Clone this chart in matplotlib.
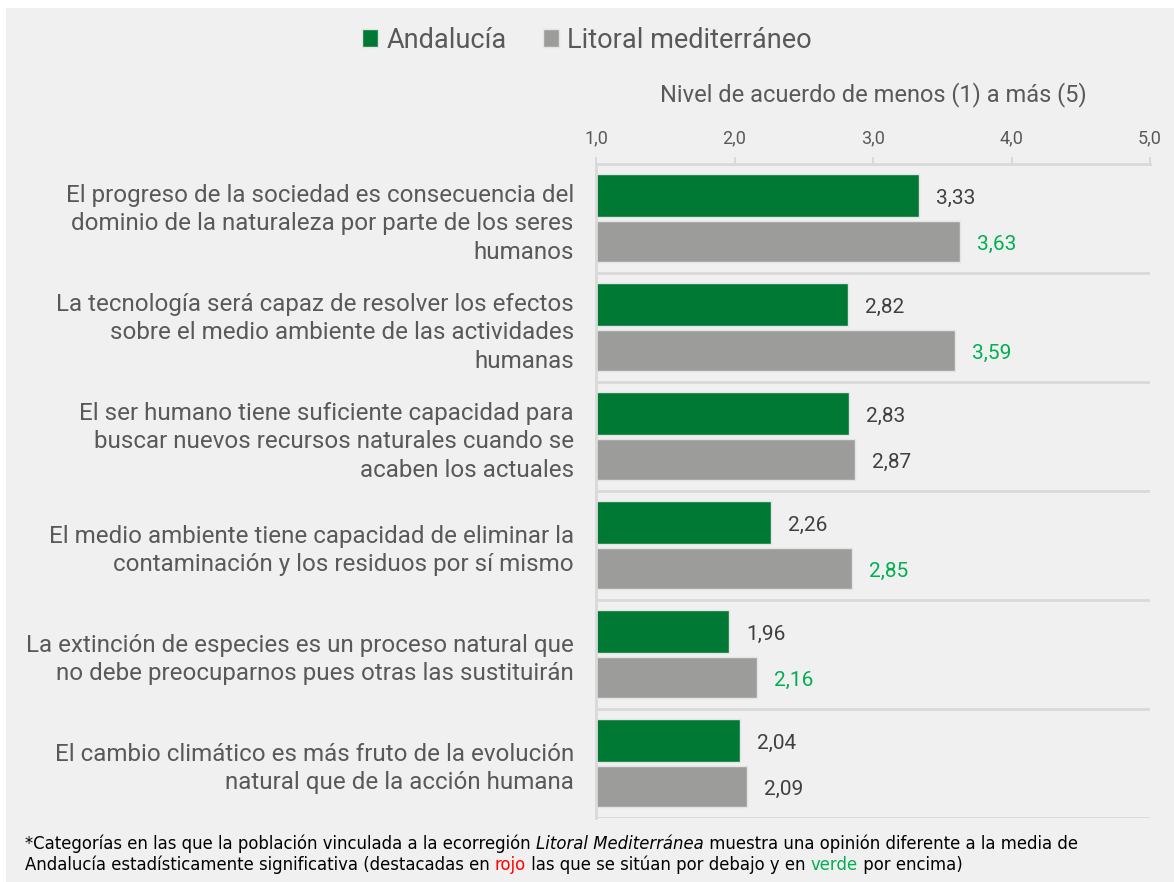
import numpy as np
import matplotlib
matplotlib.use('Agg')
import matplotlib.pyplot as plt
from matplotlib.patches import Rectangle

plt.rcParams['font.family'] = ['Roboto', 'DejaVu Sans']

# data
categories = [
    'El progreso de la sociedad es consecuencia del\ndominio de la naturaleza por parte de los seres\nhumanos',
    'La tecnología será capaz de resolver los efectos\nsobre el medio ambiente de las actividades\nhumanas',
    'El ser humano tiene suficiente capacidad para\nbuscar nuevos recursos naturales cuando se\nacaben los actuales',
    'El medio ambiente tiene capacidad de eliminar la\ncontaminación y los residuos por sí mismo',
    'La extinción de especies es un proceso natural que\nno debe preocuparnos pues otras las sustituirán',
    'El cambio climático es más fruto de la evolución\nnatural que de la acción humana',
]
andalucia = [3.33, 2.82, 2.83, 2.26, 1.96, 2.04]
litoral = [3.63, 3.59, 2.87, 2.85, 2.16, 2.09]
# significant categories (shown in green)
significant = [True, True, False, True, True, False]
xticks = [1, 2, 3, 4, 5]

GREEN = '#007934'
GREY = '#9c9c9a'
SIG = '#00b050'
TXT = '#595959'
VAL = '#404040'
LINE = '#d9d9d9'

fig = plt.figure(figsize=(11.74, 8.82), dpi=100)
fig.patch.set_facecolor('white')
fig.patches.append(Rectangle((6 / 1174, 0), 1, 1 - 8 / 882, transform=fig.transFigure,
                             facecolor='#f0f0f0', edgecolor='none', zorder=-10))

ax = fig.add_axes([596 / 1174, 1 - 818 / 882, (1150 - 596) / 1174, (818 - 164) / 882])
ax.set_facecolor('none')

n = len(categories)
pos = np.arange(n)
ax.barh(pos + 0.29, np.array(andalucia) - 1, left=1, height=0.395, color=GREEN,
        edgecolor='#e4e4e4', linewidth=1, label='Andalucía')
ax.barh(pos + 0.71, np.array(litoral) - 1, left=1, height=0.38, color=GREY,
        edgecolor='#e4e4e4', linewidth=1, label='Litoral mediterráneo')

off = 17 * 72 / 100
for i in range(n):
    ax.annotate(f'{andalucia[i]:.2f}'.replace('.', ','), (andalucia[i], pos[i] + 0.29),
                xytext=(off, -2), textcoords='offset points', va='center', ha='left',
                fontsize=15, color=VAL)
    ax.annotate(f'{litoral[i]:.2f}'.replace('.', ','), (litoral[i], pos[i] + 0.71),
                xytext=(off, -2), textcoords='offset points', va='center', ha='left',
                fontsize=15, color=SIG if significant[i] else VAL)

for k in range(1, n + 1):
    ax.axhline(k, color=LINE, lw=2, zorder=0)

ax.set_xlim(1, 5)
ax.set_ylim(n, 0)
ax.xaxis.tick_top()
ax.xaxis.set_label_position('top')
ax.set_xticks(xticks)
ax.set_xticklabels([f'{t:.1f}'.replace('.', ',') for t in xticks], fontsize=13, color=TXT)
ax.tick_params(axis='x', length=5, width=1.5, color=LINE, pad=7)
ax.set_xlabel('Nivel de acuerdo de menos (1) a más (5)', fontsize=17, color=TXT, labelpad=20)
ax.set_yticks(pos + 0.5)
ax.set_yticklabels(categories, fontsize=17.4, color=TXT, linespacing=1.3)
ax.tick_params(axis='y', length=0, pad=16)
for s in ['right', 'bottom']:
    ax.spines[s].set_visible(False)
for s in ['top', 'left']:
    ax.spines[s].set_color(LINE)
    ax.spines[s].set_linewidth(2)

fig.legend(loc='center', bbox_to_anchor=(0.5, 1 - 40 / 882), ncol=2, frameon=False,
           labelcolor=TXT, handlelength=0.6, handleheight=0.6,
           handletextpad=0.3, columnspacing=1.35, prop={'size': 19.5})

# footnote with coloured / italic pieces
renderer = fig.canvas.get_renderer()
def write_line(pieces, x, y):
    for txt, color, style in pieces:
        t = fig.text(x, y, txt, fontsize=11.9, color=color, style=style,
                     family=['Liberation Sans Narrow', 'DejaVu Sans'], va='center')
        x += t.get_window_extent(renderer).width / fig.bbox.width

write_line([('*Categorías en las que la población vinculada a la ecorregión ', 'black', 'normal'),
            ('Litoral Mediterránea', 'black', 'italic'),
            (' muestra una opinión diferente a la media de', 'black', 'normal')],
           25 / 1174, 1 - 844 / 882)
write_line([('Andalucía estadísticamente significativa (destacadas en ', 'black', 'normal'),
            ('rojo', '#ff0000', 'normal'),
            (' las que se sitúan por debajo y en ', 'black', 'normal'),
            ('verde', SIG, 'normal'),
            (' por encima)', 'black', 'normal')],
           25 / 1174, 1 - 865 / 882)

fig.savefig('out.png', dpi=100, facecolor=fig.get_facecolor())
